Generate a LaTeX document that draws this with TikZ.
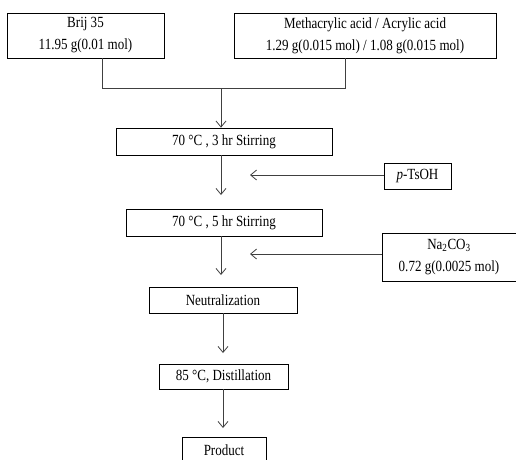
\documentclass[tikz,border=0pt]{standalone}
\usepackage{fontspec}
\setmainfont{Liberation Serif}[FakeStretch=0.84]
\usetikzlibrary{arrows.meta}
\begin{document}
\begin{tikzpicture}[x=1pt,y=-1pt,
  box/.style={draw, line width=0.8pt, inner sep=0pt, align=center, font=\fontsize{15.5}{22}\selectfont},
  line/.style={line width=0.8pt, draw=black!75},
  arr/.style={line, -{Straight Barb[length=6pt,width=10pt,line width=0.8pt]}}]
\useasboundingbox (0,0) rectangle (516,459);
\node[box, minimum width=157pt, minimum height=45pt] (brij) at (85.5,35.5) {Brij 35\\11.95 g(0.01 mol)};
\node[box, minimum width=262pt, minimum height=45pt] (meth) at (365,35.5) {Methacrylic acid / Acrylic acid\\1.29 g(0.015 mol) / 1.08 g(0.015 mol)};
\coordinate (jl) at (102.5,88);
\coordinate (jr) at (345,88);
\coordinate (jm) at (221,88);
\draw[line] (brij.south -| jl) -- (jl) -- (jr) -- (meth.south -| jr);
\node[box, minimum width=216pt, minimum height=27pt] (s1) at (224,141.5) {70 °C , 3 hr Stirring};
\draw[arr] (jm) -- (jm |- s1.north);
\node[box, minimum width=67pt, minimum height=26pt] (ts) at (417.5,176) {\textit{p}-TsOH};
\node[box, minimum width=196pt, minimum height=27pt] (s2) at (224,222.5) {70 °C , 5 hr Stirring};
\coordinate (a1) at (221,155);
\draw[arr] (s1.south -| a1) -- (221,195);
\coordinate (t1) at (250,175);
\draw[arr] (ts.west |- t1) -- (t1);
\node[box, minimum width=134pt, minimum height=48pt] (na) at (449,257) {Na\textsubscript{2}CO\textsubscript{3}\\0.72 g(0.0025 mol)};
\node[box, minimum width=148pt, minimum height=26pt] (neu) at (223,300) {Neutralization};
\draw[arr] (s2.south -| a1) -- (221,275);
\coordinate (t2) at (250,254);
\draw[arr] (na.west |- t2) -- (t2);
\node[box, minimum width=129pt, minimum height=25pt] (dist) at (223.5,376.5) {85 °C, Distillation};
\coordinate (a3) at (223,313);
\draw[arr] (neu.south -| a3) -- (223,353);
\node[box, minimum width=84pt, minimum height=26pt] (prod) at (224,450) {Product};
\draw[arr] (dist.south -| a3) -- (223,428);
\end{tikzpicture}
\end{document}
